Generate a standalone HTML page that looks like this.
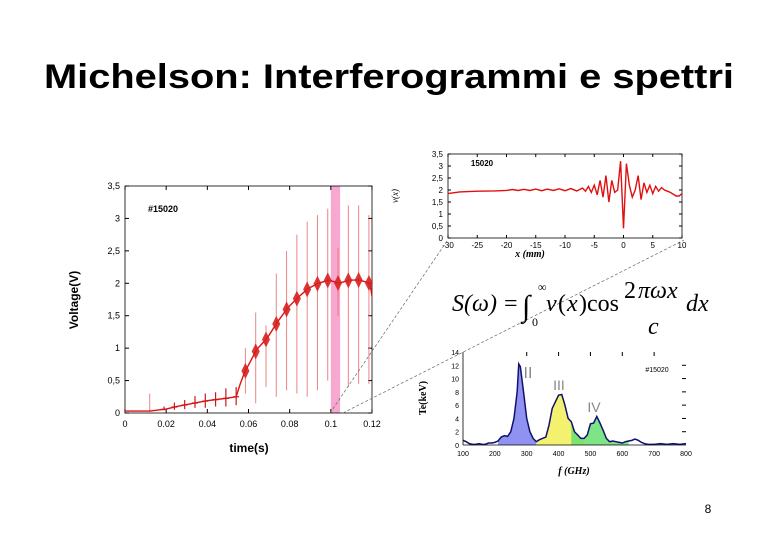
<!DOCTYPE html>
<html><head><meta charset="utf-8"><style>
html,body{margin:0;padding:0;background:#fff;width:780px;height:540px;overflow:hidden}
svg text{font-family:"Liberation Sans",Arial,sans-serif}
.ser{font-family:"Liberation Serif","Times New Roman",serif !important}
</style></head><body>
<svg id="s" width="780" height="540" viewBox="0 0 780 540" xmlns="http://www.w3.org/2000/svg">
<text x="389" y="88" text-anchor="middle" font-size="34" font-weight="bold" textLength="690" lengthAdjust="spacingAndGlyphs">Michelson: Interferogrammi e spettri</text>
<text x="708" y="513" text-anchor="middle" font-size="12">8</text>
<g id="left"></g>
<g id="top"></g>
<g id="bot"></g>
<g stroke="#666" stroke-width="0.7" stroke-dasharray="3,2">
<line x1="330" y1="413" x2="447" y2="241"/>
<line x1="343" y1="413" x2="684" y2="240"/>
</g>
<g class="ser" font-style="italic">
<text class="ser" x="452" y="311" font-size="24">S(ω)</text>
<text class="ser" x="504" y="311" font-size="24" font-style="normal">=</text>
<text class="ser" x="522" y="316" font-size="30" font-style="normal">∫</text>
<text class="ser" x="538" y="291" font-size="12" font-style="normal">∞</text>
<text class="ser" x="532" y="326" font-size="12" font-style="normal">0</text>
<text class="ser" x="546" y="311" font-size="24">v</text>
<text class="ser" x="558" y="311" font-size="24" font-style="normal">(</text>
<text class="ser" x="567" y="311" font-size="24">x</text>
<text class="ser" x="579" y="311" font-size="24" font-style="normal">)cos</text>
<text class="ser" x="624" y="298" font-size="24" font-style="normal">2</text>
<text class="ser" x="638" y="298" font-size="24">πωx</text>
<text class="ser" x="648" y="334" font-size="24">c</text>
<text class="ser" x="686" y="311" font-size="24">dx</text>
</g>
</svg>
<script>
// ---- left chart data ----
const volTimes=[0,0.012,0.02,0.025,0.03,0.035,0.04,0.045,0.05,0.054,0.056,0.058,0.064,0.069,0.074,0.079,0.084,0.089,0.094,0.099,0.104,0.109,0.114,0.119,0.12];
const volValues=[0.03,0.03,0.06,0.1,0.13,0.16,0.19,0.21,0.23,0.25,0.45,0.62,0.98,1.15,1.4,1.62,1.78,1.92,2.0,2.05,2.0,2.05,2.05,2.0,1.8];
const spikeTimes=[0.012,0.0585,0.0635,0.0685,0.0735,0.0785,0.0835,0.0885,0.0935,0.0985,0.1035,0.1085,0.1135,0.1185];
const spikeTops=[0.3,1.0,1.55,1.35,2.15,2.5,2.75,2.95,3.05,3.15,2.55,3.2,3.2,3.05];
const spikeBottoms=[0.0,0.3,0.15,0.4,0.25,0.35,0.3,0.25,0.35,0.5,1.5,0.4,0.45,0.45];
const smallSpikeTimes=[0.019,0.024,0.029,0.034,0.039,0.044,0.049,0.054];
const smallSpikeTops=[0.1,0.16,0.2,0.26,0.3,0.32,0.38,0.4];
const smallSpikeBottoms=[0.04,0.05,0.06,0.08,0.08,0.1,0.1,0.12];
const volXTicks=[0,0.02,0.04,0.06,0.08,0.1,0.12];
const volXLabels=["0","0.02","0.04","0.06","0.08","0.1","0.12"];
const volYTicks=[0,0.5,1,1.5,2,2.5,3,3.5];
const volYLabels=["0","0,5","1","1,5","2","2,5","3","3,5"];
// ---- interferogram data ----
const ifgX=[-30,-28,-25,-22,-20,-19,-18,-17,-16,-15,-14,-13,-12,-11,-10,-9,-8,-7,-6.5,-6,-5.5,-5,-4.5,-4,-3.5,-3,-2.5,-2,-1.5,-1,-0.5,0,0.5,1,1.5,2,2.5,3,3.5,4,4.5,5,5.5,6,6.5,7,7.5,8,9,9.5,10];
const ifgV=[1.85,1.92,1.95,1.96,1.98,2.02,1.98,2.03,1.98,2.04,1.97,2.04,1.98,2.05,1.97,2.06,1.96,2.08,1.95,2.15,1.9,2.2,1.8,2.4,1.7,2.6,1.5,2.4,1.9,2.0,3.2,0.4,3.1,2.2,1.7,2.0,2.6,1.6,2.3,1.9,2.2,1.85,2.15,1.95,2.1,2.0,1.95,1.9,1.75,1.75,1.85];
const ifgXTicks=[-30,-25,-20,-15,-10,-5,0,5,10];
const ifgYTicks=[0,0.5,1,1.5,2,2.5,3,3.5];
const ifgYLabels=["0","0,5","1","1,5","2","2,5","3","3,5"];
// ---- spectrum data ----
const specF=[100,110,120,130,140,150,160,170,180,190,200,210,220,230,240,250,260,270,275,280,290,300,310,320,330,340,350,360,370,380,390,400,410,420,430,440,450,460,470,480,490,500,510,520,530,540,550,560,570,580,590,600,610,620,630,640,650,660,670,680,700,720,740,760,780,800];
const specT=[0.7,0.5,0.2,0.1,0.1,0.2,0.1,0.1,0.3,0.3,0.4,0.6,1.2,1.4,1.3,2.0,4.0,8.0,12.2,11.8,8.0,4.0,2.0,1.0,0.5,0.8,1.0,1.2,3.0,5.5,6.5,7.5,7.6,6.0,4.0,3.5,2.0,1.5,1.0,1.0,1.5,3.2,3.3,4.3,3.3,2.2,1.0,0.5,0.6,0.5,0.4,0.3,0.5,0.6,0.7,0.9,0.7,0.4,0.2,0.1,0.1,0.2,0.1,0.2,0.1,0.2];
const specXTicks=[100,200,300,400,500,600,700,800];
const specYTicks=[0,2,4,6,8,10,12,14];
const bandNames=["II","III","IV"];
const bandRanges=[[210,335],[330,480],[440,620]];
const bandColors=["#7d7ff0","#f2ee55","#66e070"];

const NS="http://www.w3.org/2000/svg";
function mk(p,tag,at){const e=document.createElementNS(NS,tag);for(const k in at)e.setAttribute(k,at[k]);p.appendChild(e);return e;}
function txt(p,x,y,s,sz,anc,extra){const t=mk(p,'text',Object.assign({x:x,y:y,'font-size':sz,'text-anchor':anc||'middle'},extra||{}));t.textContent=s;return t;}

// LEFT
(function(){
const g=document.getElementById('left');
const X0=125,X1=372,Y0=413,Y1=186;
const sx=v=>X0+(v-0)/0.12*(X1-X0), sy=v=>Y0-(v/3.5)*(Y0-Y1);
const band=mk(g,'rect',{x:sx(0.1),y:Y1,width:sx(0.1045)-sx(0.1),height:Y0-Y1,fill:'#f7a8cf'});


mk(g,'rect',{x:X0,y:Y1,width:X1-X0,height:Y0-Y1,fill:'none',stroke:'#000','stroke-width':0.8});
volXTicks.forEach((v,i)=>{mk(g,'line',{x1:sx(v),x2:sx(v),y1:Y0,y2:Y0-4,stroke:'#000'});mk(g,'line',{x1:sx(v),x2:sx(v),y1:Y1,y2:Y1+4,stroke:'#000'});
 const t=txt(g,sx(v),Y0+14,volXLabels[i],9);});
volYTicks.forEach((v,i)=>{mk(g,'line',{x1:X0,x2:X0+4,y1:sy(v),y2:sy(v),stroke:'#000'});mk(g,'line',{x1:X1,x2:X1-4,y1:sy(v),y2:sy(v),stroke:'#000'});
 const t=txt(g,X0-5,sy(v)+3,volYLabels[i],9,'end');});
spikeTimes.forEach((t,i)=>{const l=mk(g,'line',{x1:sx(t),x2:sx(t),y1:sy(spikeTops[i]),y2:sy(spikeBottoms[i]),stroke:'#e87070','stroke-width':1,opacity:0.85});
 });
smallSpikeTimes.forEach((t,i)=>{const l=mk(g,'line',{x1:sx(t),x2:sx(t),y1:sy(smallSpikeTops[i]),y2:sy(smallSpikeBottoms[i]),stroke:'#c81818','stroke-width':1.2});
 });
const pts=volTimes.map((t,i)=>sx(t)+','+sy(volValues[i])).join(' ');
const pl=mk(g,'polyline',{points:pts,fill:'none',stroke:'#e01010','stroke-width':1.4});

function valAt(t){let k=volTimes.findIndex(x=>x>=t);if(k<1)k=1;return volValues[k-1]+(volValues[k]-volValues[k-1])*(t-volTimes[k-1])/(volTimes[k]-volTimes[k-1]);}
spikeTimes.forEach((t,i)=>{if(i===0)return;const vv=valAt(t);
 const r=mk(g,'path',{d:`M${sx(t)-4},${sy(vv)} L${sx(t)},${sy(vv)-8} L${sx(t)+4},${sy(vv)} L${sx(t)},${sy(vv)+8}Z`,fill:'#d82020',opacity:0.9});});
smallSpikeTimes.forEach((t,i)=>{const vv=valAt(t);
 const r=mk(g,'line',{x1:sx(t)-3,x2:sx(t)+3,y1:sy(vv),y2:sy(vv),stroke:'#c81818','stroke-width':1.2});});
const lab=txt(g,163,212,'#15020',9,'middle',{'font-weight':'bold'});
const xt=txt(g,249,452,'time(s)',12,'middle',{'font-weight':'bold'});
const yt=txt(g,78,300,'Voltage(V)',12,'middle',{'font-weight':'bold',transform:'rotate(-90 78 300)'});
})();

// TOP
(function(){
const g=document.getElementById('top');
const X0=448,X1=682,Y0=238,Y1=154;
const sx=v=>X0+(v+30)/40*(X1-X0), sy=v=>Y0-(v/3.5)*(Y0-Y1);
mk(g,'rect',{x:X0,y:Y1,width:X1-X0,height:Y0-Y1,fill:'none',stroke:'#000','stroke-width':0.8});
ifgXTicks.forEach(v=>{mk(g,'line',{x1:sx(v),x2:sx(v),y1:Y0,y2:Y0-3,stroke:'#000'});mk(g,'line',{x1:sx(v),x2:sx(v),y1:Y1,y2:Y1+3,stroke:'#000'});
 const t=txt(g,sx(v),Y0+10,String(v),8);});
ifgYTicks.forEach((v,i)=>{mk(g,'line',{x1:X0,x2:X0+3,y1:sy(v),y2:sy(v),stroke:'#000'});mk(g,'line',{x1:X1,x2:X1-3,y1:sy(v),y2:sy(v),stroke:'#000'});
 const t=txt(g,X0-5,sy(v)+3,ifgYLabels[i],8,'end');});
const pl=mk(g,'polyline',{points:ifgX.map((x,i)=>sx(x)+','+sy(ifgV[i])).join(' '),fill:'none',stroke:'#e01010','stroke-width':1.4});

const lab=txt(g,482,166,'15020',8,'middle',{'font-weight':'bold'});
const xt=txt(g,530,257,'x (mm)',10,'middle',{'font-style':'italic','font-weight':'bold',class:'ser'});
const yt=txt(g,398,196,'v(x)',9,'middle',{'font-style':'italic',class:'ser',transform:'rotate(-90 398 196)'});
})();

// BOTTOM
(function(){
const g=document.getElementById('bot');
const X0=463,X1=686,Y0=445,Y1=352;
const sx=v=>X0+(v-100)/700*(X1-X0), sy=v=>Y0-(v/14)*(Y0-Y1);
bandRanges.forEach((r,b)=>{const idx=specF.map((f,i)=>i).filter(i=>specF[i]>=r[0]&&specF[i]<=r[1]);
 const pts=[sx(specF[idx[0]])+','+Y0].concat(idx.map(i=>sx(specF[i])+','+sy(specT[i]))).concat([sx(specF[idx[idx.length-1]])+','+Y0]).join(' ');
 const p=mk(g,'polygon',{points:pts,fill:bandColors[b],opacity:0.85});});
const pl=mk(g,'polyline',{points:specF.map((f,i)=>sx(f)+','+sy(specT[i])).join(' '),fill:'none',stroke:'#101070','stroke-width':1.5});

mk(g,'line',{x1:X0,x2:X0,y1:Y1,y2:Y0,stroke:'#000','stroke-width':0.8});
mk(g,'line',{x1:X0,x2:X1,y1:Y0,y2:Y0,stroke:'#000','stroke-width':0.8});
specXTicks.forEach(v=>{const t=txt(g,sx(v),Y0+11,String(v),7);
 if(v>=300&&v<=700)mk(g,'line',{x1:sx(v),x2:sx(v),y1:Y1,y2:Y1+4,stroke:'#000'});});
specYTicks.forEach(v=>{const t=txt(g,X0-4,sy(v)+3,String(v),7,'end');
 if(v>0&&v<14)mk(g,'line',{x1:X1-4,x2:X1,y1:sy(v),y2:sy(v),stroke:'#000'});});
const pos=[[528,378,16],[559,390,14],[594,412,14]];
bandNames.forEach((n,i)=>{const t=txt(g,pos[i][0],pos[i][1],n,pos[i][2],'middle',{fill:'#888'});});
const lab=txt(g,657,372,'#15020',7);
const xt=txt(g,574,474,'f (GHz)',10,'middle',{'font-style':'italic','font-weight':'bold',class:'ser'});
const yt=txt(g,426,398,'Te(keV)',10,'middle',{'font-weight':'bold',class:'ser',transform:'rotate(-90 426 398)'});
})();
</script>
</body></html>
